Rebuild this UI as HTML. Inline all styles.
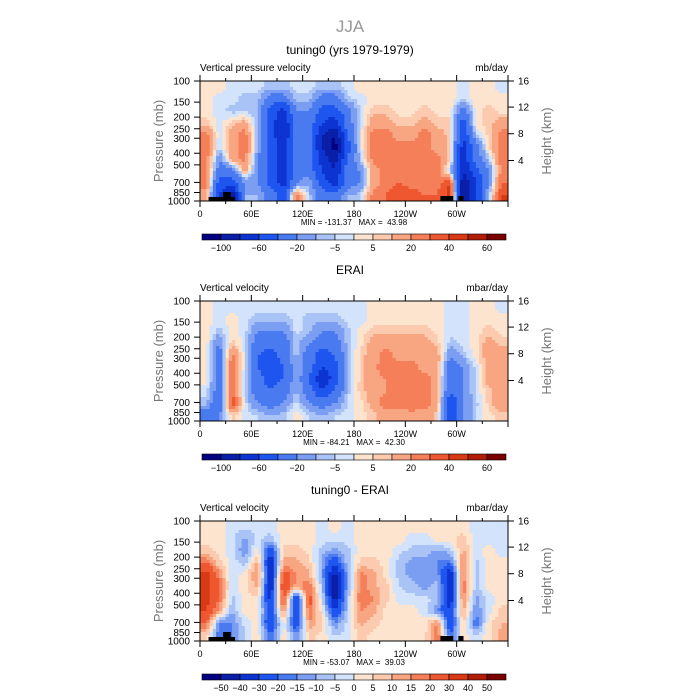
<!DOCTYPE html>
<html><head><meta charset="utf-8"><style>
html,body{margin:0;padding:0;background:#fff;}
svg{display:block;font-family:"Liberation Sans",sans-serif;}
text{white-space:pre;}
</style></head><body>
<svg id="chart" width="700" height="700" viewBox="0 0 700 700" xmlns="http://www.w3.org/2000/svg">
<text x="350" y="32" font-size="17" fill="#999" text-anchor="middle">JJA</text>
</svg>
<script>
const lonCenters=[7.5,22.5,37.5,52.5,67.5,82.5,97.5,112.5,127.5,142.5,157.5,172.5,187.5,202.5,217.5,232.5,247.5,262.5,277.5,292.5,307.5,322.5,337.5,352.5];
const presRows=[112,141,178,224,282,355,447,562,708,891];
const xTickLabels=["0","60E","120E","180","120W","60W"];
const xTickLons=[0,60,120,180,240,300];
const pTickLabels=[100,150,200,250,300,400,500,700,850,1000];
const hTickLabels=[16,12,8,4];
const hTickPres=[100,165,275,460];
const levelsA=[-100,-80,-60,-40,-20,-10,-5,0,5,10,20,30,40,50,60];
const cbLabelsA=["-100","","-60","","-20","","-5","","5","","20","","40","","60"];
const levelsB=[-50,-40,-30,-20,-15,-10,-5,0,5,10,15,20,30,40,50];
const cbLabelsB=["-50","-40","-30","-20","-15","-10","-5","0","5","10","15","20","30","40","50"];
const colors=["#000080","#0a1fa8","#0d34d0","#1f55ef","#4a7af0","#7c9ef2","#a9c3f6","#d2e3fb","#fde4cf","#fccaaf","#f8a581","#f47f58","#ee5730","#d83a14","#b01e08","#7a0000"];
const dataTop=[
[3,3,-3,-3,-3,-7,-7,-3,-3,-7,-7,-3,3,3,3,3,3,3,3,3,-3,3,3,-3],
[3,-3,-3,-7,-7,-30,-30,-7,-7,-30,-30,-7,-3,3,3,3,3,3,3,3,-3,3,3,3],
[3,-3,-7,-7,-10,-50,-70,-20,-20,-50,-50,-30,-3,7,7,3,3,7,3,3,-30,3,7,3],
[7,-3,7,15,-10,-50,-80,-30,-30,-60,-70,-30,-3,15,15,7,7,15,7,7,-50,3,7,15],
[25,-3,15,25,-10,-50,-80,-30,-30,-80,-100,-40,-3,25,25,15,15,25,15,7,-60,-7,7,25],
[25,-5,15,25,-10,-50,-70,-30,-30,-80,-110,-50,-3,25,30,25,25,25,15,7,-70,-30,7,25],
[25,-20,15,25,-20,-50,-70,-30,-30,-70,-90,-40,-7,25,25,30,25,25,25,7,-70,-30,-7,25],
[25,-30,-30,15,-20,-50,-70,-30,-30,-60,-80,-30,-20,15,25,30,25,25,25,-7,-80,-50,-20,25],
[25,-50,-50,-20,-20,-50,-70,-20,-10,-50,-70,-30,-20,15,25,30,25,25,25,40,-100,-60,-20,30],
[15,-60,-100,-10,-10,-30,-50,25,-7,-30,-30,-10,-7,25,30,40,35,30,30,45,-100,-60,-7,40]];
const dataMid=[
[3,-3,-3,-3,-3,-3,-3,-3,-3,-3,-3,-3,-3,3,3,3,3,3,3,-3,-3,3,3,-3],
[3,-3,3,-3,-7,-7,-7,-3,-7,-7,-7,-3,-3,3,3,3,3,3,3,-3,-3,3,3,3],
[3,-7,3,-3,-20,-20,-20,-3,-7,-20,-20,-7,3,7,7,7,7,7,3,-3,-3,3,7,3],
[3,-20,7,-3,-30,-30,-30,-7,-20,-30,-30,-7,3,15,15,15,15,15,7,-7,-3,3,15,7],
[3,-30,25,-3,-40,-50,-30,-7,-30,-50,-40,-10,7,15,25,15,15,15,15,-20,-7,3,15,15],
[3,-30,30,-3,-40,-60,-40,-10,-30,-60,-50,-10,7,15,30,25,25,15,15,-30,-20,-3,15,15],
[3,-30,30,-7,-30,-50,-40,-10,-40,-80,-50,-10,7,15,20,25,30,25,15,-40,-20,-3,15,20],
[-3,-30,30,-7,-30,-40,-30,-10,-30,-60,-40,-7,7,15,20,30,25,25,15,-40,-20,-3,7,15],
[-7,-40,40,-3,-20,-30,-20,-3,-20,-30,-20,-5,3,15,25,25,30,25,15,-60,-20,-7,7,20],
[-30,-20,7,-3,-5,-10,-7,3,-5,-10,-5,-3,3,7,15,15,15,15,7,-60,-20,-5,3,7]];
const dataDiff=[
[3,3,-3,-3,-3,-3,3,3,3,-3,3,-3,3,3,3,3,3,3,3,3,3,-3,-3,-3],
[3,3,-3,-12,-3,-7,3,3,3,-3,-3,-3,3,3,3,3,-3,-3,3,3,7,-3,-3,-3],
[7,3,-3,-15,3,-30,7,7,3,-7,-12,-7,3,3,3,-3,-7,-7,-12,-7,12,-3,3,-3],
[20,7,-3,-7,12,-40,12,12,7,-12,-30,-7,7,7,3,-7,-12,-12,-15,-20,17,-7,3,3],
[35,17,-3,3,17,-40,25,15,12,-12,-45,-12,17,12,3,-7,-12,-15,-12,-40,17,-7,3,3],
[35,20,-3,3,12,-40,30,12,20,-7,-50,-12,17,12,7,-5,-7,-12,-7,-40,20,-7,3,3],
[35,20,-7,3,3,-35,25,-35,25,-3,-45,-7,20,15,7,-3,-3,-3,-7,-40,17,-12,-3,3],
[30,12,-10,3,3,-30,17,-30,20,3,-30,-7,15,12,3,3,3,-3,-15,-30,12,-15,-3,7],
[20,-15,-15,-3,3,-35,3,-30,15,7,-15,-3,12,7,3,3,3,3,15,-30,7,-20,3,10],
[7,-20,-15,-5,3,-20,3,-15,7,3,-5,-3,7,3,3,3,3,3,20,-20,3,-5,3,12]];
const minmaxTexts=["MIN = -131.37   MAX =  43.98","MIN = -84.21   MAX =  42.30","MIN = -53.07   MAX =  39.03"];
const titles=["tuning0 (yrs 1979-1979)","ERAI","tuning0 - ERAI"];
const leftStrs=["Vertical pressure velocity","Vertical velocity","Vertical velocity"];
const rightStrs=["mb/day","mbar/day","mbar/day"];

const NS="http://www.w3.org/2000/svg";
const svg=document.getElementById('chart');
const X0=200,X1=508,H=120;
function mk(tag,attrs,parent){const e=document.createElementNS(NS,tag);for(const k in attrs)e.setAttribute(k,attrs[k]);(parent||svg).appendChild(e);return e;}
function xScale(lon){return X0+(lon/360)*(X1-X0);}
function yScale(p,top){return top+Math.log10(p/100)*H;}
function colorFor(v,levels){let i=0;while(i<levels.length&&v>=levels[i])i++;return colors[i];}
function sample(data,fi,fr){
  const nc=lonCenters.length,nr=presRows.length;
  fi=Math.max(0,Math.min(nc-1,fi));fr=Math.max(0,Math.min(nr-1,fr));
  const i0=Math.floor(fi),i1=Math.min(nc-1,i0+1),r0=Math.floor(fr),r1=Math.min(nr-1,r0+1);
  const a=fi-i0,b=fr-r0;
  return (data[r0][i0]*(1-a)+data[r0][i1]*a)*(1-b)+(data[r1][i0]*(1-a)+data[r1][i1]*a)*b;
}

function panel(idx,top,data,levels,cbLabels){
  const g=mk('g',{});
  
  
  let t=mk('text',{x:350,y:top-27,'font-size':12,'text-anchor':'middle',fill:'#000'},g);t.textContent=titles[idx];
  
  t=mk('text',{x:X0,y:top-10,'font-size':10,fill:'#000'},g);t.textContent=leftStrs[idx];
  
  t=mk('text',{x:X1,y:top-10,'font-size':10,'text-anchor':'end',fill:'#000'},g);t.textContent=rightStrs[idx];
  
  const SUB=4;
  const nc=lonCenters.length,nr=presRows.length;
  for(let r=0;r<nr*SUB;r++){
    const fr=(r+0.5)/SUB-0.5;
    const y0=top+(r/(nr*SUB))*H, y1=top+((r+1)/(nr*SUB))*H;
    for(let c=0;c<nc*SUB;c++){
      const fc=(c+0.5)/SUB-0.5;
      const xa=X0+(c/(nc*SUB))*(X1-X0), xb=X0+((c+1)/(nc*SUB))*(X1-X0);
      const rc=mk('rect',{x:xa.toFixed(2),y:y0.toFixed(2),width:(xb-xa+0.4).toFixed(2),height:(y1-y0+0.4).toFixed(2),fill:colorFor(sample(data,fc,fr),levels)},g);
      
      
    }
  }
  if(idx!==1){
    [[10,41,4],[27,36,9],[281,296,5],[302,308,5]].forEach(b=>{
      const tb=mk('rect',{x:xScale(b[0]),y:top+H-b[2],width:xScale(b[1])-xScale(b[0]),height:b[2],fill:'#000'},g);
      
    });
  }
  const fr=mk('rect',{x:X0,y:top,width:X1-X0,height:H,fill:'none',stroke:'#000','stroke-width':1},g);
  
  for(let lon=0;lon<=360;lon+=30){
    const x=xScale(lon),len=lon%60===0?6:3;
    mk('line',{x1:x,y1:top+H,x2:x,y2:top+H+len,stroke:'#000'},g);
    mk('line',{x1:x,y1:top,x2:x,y2:top-len,stroke:'#000'},g);
  }
  xTickLabels.forEach((l,i)=>{const tx=mk('text',{x:xScale(xTickLons[i]),y:top+H+16,'font-size':9,'text-anchor':'middle'},g);tx.textContent=l;
    });
  pTickLabels.forEach(p=>{const y=yScale(p,top);mk('line',{x1:X0-6,y1:y,x2:X0,y2:y,stroke:'#000'},g);
    const tx=mk('text',{x:X0-10,y:y+3.5,'font-size':10,'text-anchor':'end'},g);tx.textContent=p;
    });
  hTickLabels.forEach((h,i)=>{const y=yScale(hTickPres[i],top);mk('line',{x1:X1,y1:y,x2:X1+6,y2:y,stroke:'#000'},g);
    const tx=mk('text',{x:X1+10,y:y+3.5,'font-size':10},g);tx.textContent=h;
    });
  t=mk('text',{transform:`translate(163,${top+60}) rotate(-90)`,'font-size':13,'text-anchor':'middle',fill:'#777'},g);t.textContent='Pressure (mb)';
  
  t=mk('text',{transform:`translate(551,${top+60}) rotate(-90)`,'font-size':13,'text-anchor':'middle',fill:'#777'},g);t.textContent='Height (km)';
  
  t=mk('text',{x:354,y:top+H+24,'font-size':8,'text-anchor':'middle'},g);t.textContent=minmaxTexts[idx];
  
  const cby=top+H+33,cx0=202,cw=304/colors.length;
  colors.forEach((c,i)=>{const b=mk('rect',{x:cx0+i*cw,y:cby,width:cw,height:6,fill:c,stroke:'#000','stroke-width':0.6},g);
    });
  cbLabels.forEach((l,i)=>{if(!l)return;const tx=mk('text',{x:cx0+(i+1)*cw,y:cby+17,'font-size':9,'text-anchor':'middle'},g);tx.textContent=l.replace('-','\u2212');
    });
}
panel(0,81,dataTop,levelsA,cbLabelsA);
panel(1,301,dataMid,levelsA,cbLabelsA);
panel(2,521,dataDiff,levelsB,cbLabelsB);
</script>
</body></html>
